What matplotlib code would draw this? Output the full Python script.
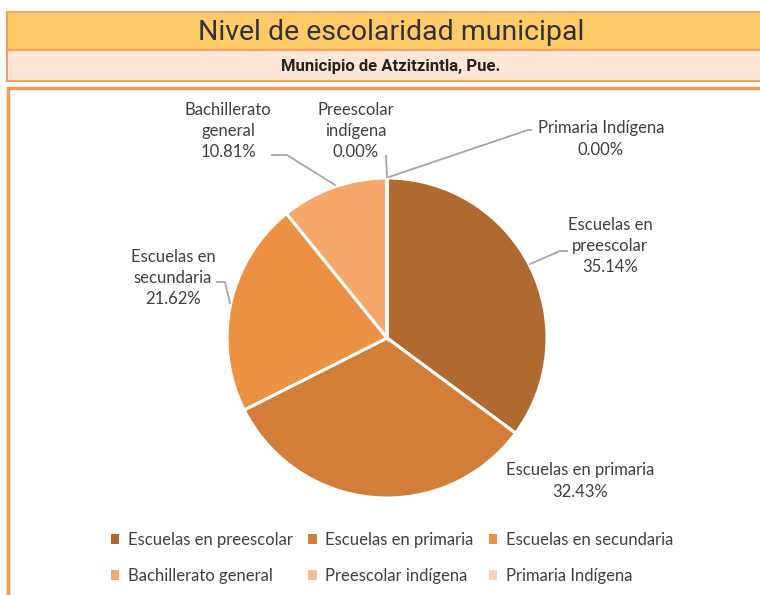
import matplotlib.pyplot as plt
from matplotlib.patches import Rectangle

# datos: porcentaje de escuelas por nivel
niveles = ["Escuelas en preescolar", "Escuelas en primaria", "Escuelas en secundaria",
           "Bachillerato general", "Preescolar indígena", "Primaria Indígena"]
porcentajes = [35.14, 32.43, 21.62, 10.81, 0.00, 0.00]
colores = ["#B06A30", "#D27E38", "#EC9144", "#F5A76C", "#F8BC98", "#FAD2BC"]
etiquetas = ["Escuelas en\npreescolar", "Escuelas en primaria", "Escuelas en\nsecundaria",
             "Bachillerato\ngeneral", "Preescolar\nindígena", "Primaria Indígena"]

W, H = 760, 595
fig = plt.figure(figsize=(7.6, 5.95), dpi=100)

def caja(x, y, w, h, fc, ec, lw):
    # y medido desde arriba en pixeles
    fig.patches.append(Rectangle((x / W, 1 - (y + h) / H), w / W, h / H, transform=fig.transFigure,
                                 facecolor=fc, edgecolor=ec, linewidth=lw, zorder=-1))

caja(7, 12, 760, 38, "#FFCA68", "#F4A060", 1.5)
caja(7, 50, 760, 31, "#FCE6D8", "#F4A060", 1.5)
caja(8, 88, 760, 520, "white", "#F59A50", 2.5)

fuente_titulo = ["Roboto", "DejaVu Sans"]
fig.text(391 / W, 1 - 32 / H, "Nivel de escolaridad municipal", ha="center", va="center",
         fontsize=20.5, color="#333333", family=fuente_titulo)
fig.text(391 / W, 1 - 66 / H, "Municipio de Atzitzintla, Pue.", ha="center", va="center",
         fontsize=12, fontweight="bold", color="#222222", family=fuente_titulo)

ax = fig.add_axes([0, 0, 1, 1])
ax.set_zorder(1)
ax.patch.set_alpha(0)

cx, cy, r = 387, H - 338, 160
ax.pie(porcentajes, colors=colores, startangle=90, counterclock=False, center=(cx, cy), radius=r,
       wedgeprops=dict(edgecolor="white", linewidth=2.2), frame=True)
ax.set_xlim(0, W)
ax.set_ylim(0, H)
ax.set_aspect("equal")
ax.axis("off")

# posiciones de etiquetas y lineas guia (pixeles desde arriba)
pos_texto = [(610, 246), (580, 481), (173, 278), (228, 131), (356, 131), (601, 139)]
lineas = [[(530, 264), (560, 251), (567, 251)],
          [],
          [(230, 303), (225, 282), (217, 282)],
          [(335, 185), (287, 155), (272, 155)],
          [(387, 177), (386, 156)],
          [(389, 177), (528, 130), (531, 130)]]

fuente = ["Lato", "DejaVu Sans"]
for i in range(len(niveles)):
    tx, ty = pos_texto[i]
    ax.text(tx, H - ty, etiquetas[i] + "\n" + "%.2f%%" % porcentajes[i], ha="center", va="center",
            fontsize=12, color="#404040", linespacing=1.42, family=fuente)
    if lineas[i]:
        xs = [p[0] for p in lineas[i]]
        ys = [H - p[1] for p in lineas[i]]
        ax.plot(xs, ys, color="#A6A6A6", linewidth=1.3)

orden = [0, 3, 1, 4, 2, 5]
handles = [Rectangle((0, 0), 1, 1, facecolor=colores[k]) for k in orden]
fig.legend(handles, [niveles[k] for k in orden], ncol=3, loc="center", bbox_to_anchor=(392 / W, 1 - 558 / H),
           frameon=False, handlelength=0.5, handleheight=0.5, handletextpad=0.5, columnspacing=0.95,
           labelspacing=1.2, prop={"family": fuente, "size": 12}, labelcolor="#404040")

fig.savefig("out.png", dpi=100)
